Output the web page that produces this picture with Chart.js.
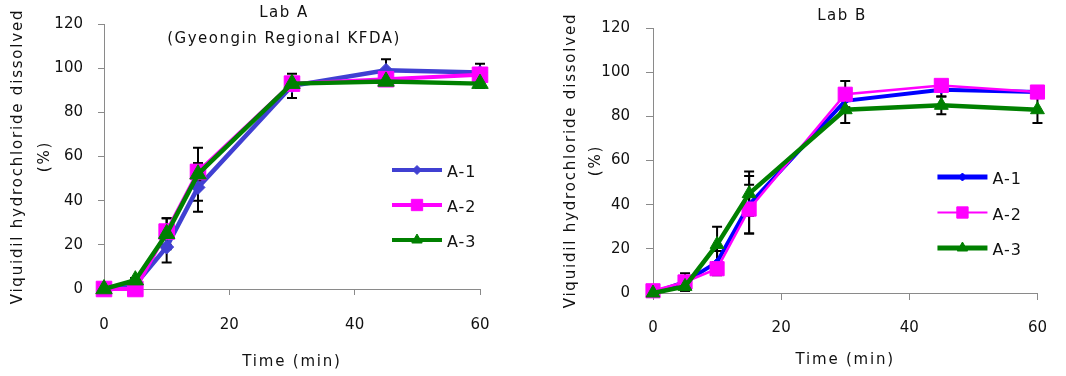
<!DOCTYPE html>
<html>
<head>
<meta charset="utf-8">
<script src="https://cdn.jsdelivr.net/npm/chart.js@4.4.0/dist/chart.umd.min.js"></script>
<style>
  html, body { margin: 0; padding: 0; background: #fff; }
  #wrap { position: relative; width: 1066px; height: 376px; }
  .box { position: absolute; top: 0; height: 376px; }
</style>
</head>
<body>
<div id="wrap">
  <div class="box" style="left:0;width:530px"><canvas id="labA"></canvas></div>
  <div class="box" style="left:530px;width:536px"><canvas id="labB"></canvas></div>
</div>
<script>
// sampling times (min)
var times = [0, 5, 10, 15, 30, 45, 60];
var seriesNames = ['A-1', 'A-2', 'A-3'];
var xTicks = [0, 20, 40, 60];
var yTicks = [0, 20, 40, 60, 80, 100, 120];

// Lab A (Gyeongin Regional KFDA), % dissolved
var labA1 = [0, 2, 19, 46, 92, 99, 98];
var labA2 = [0, 0, 26, 53, 93, 95, 97];
var labA3 = [0, 4, 25, 52, 93, 94, 93];
var labA1Err = [0, 3, 7, 11, 5.5, 5, 4];
var labA2Err = [0, 0, 6, 4, 2, 2, 2];
var labA3Err = [0, 1, 7, 12, 2, 2, 2];

// Lab B, % dissolved
var labB1 = [0, 5, 14, 40, 87, 92, 91];
var labB2 = [1, 5, 11, 38, 90, 94, 91];
var labB3 = [0, 3, 22, 45, 83, 85, 83];
var labB1Err = [0, 4, 5, 13, 3, 3, 2];
var labB2Err = [0, 2, 3, 11, 6, 2, 2];
var labB3Err = [0, 2, 8, 10, 6, 4, 6];

var FONT = 'DejaVu Sans';
var TEXT = '#111';
var AXIS = '#8a8a8a';

function pts(vals) {
  return times.map(function (t, i) { return { x: t, y: vals[i] }; });
}

var labPlugin = {
  id: 'labPlugin',
  beforeDraw: function (chart) {
    // wide letter spacing for the axis titles (drawn with the grid layer)
    chart.ctx.letterSpacing = '1.8px';
  },
  beforeDatasetsDraw: function (chart, args, opts) {
    var ctx = chart.ctx;
    ctx.letterSpacing = '0px';
    var xs = chart.scales.x, ys = chart.scales.y;
    ctx.save();
    ctx.strokeStyle = '#000';
    ctx.lineWidth = 2;
    chart.data.datasets.forEach(function (ds, d) {
      ds.data.forEach(function (p, i) {
        var e = opts.errors[d][i];
        if (!e) return;
        var px = xs.getPixelForValue(p.x);
        var top = ys.getPixelForValue(p.y + e);
        var bot = ys.getPixelForValue(p.y - e);
        ctx.beginPath();
        ctx.moveTo(px, top); ctx.lineTo(px, bot);
        ctx.moveTo(px - 5, top); ctx.lineTo(px + 5, top);
        ctx.moveTo(px - 5, bot); ctx.lineTo(px + 5, bot);
        ctx.stroke();
      });
    });
    ctx.restore();
  },
  afterDraw: function (chart, args, opts) {
    var ctx = chart.ctx;
    var area = chart.chartArea;
    ctx.save();
    ctx.letterSpacing = '1.5px';
    ctx.fillStyle = TEXT;
    ctx.font = '15px "' + FONT + '"';
    ctx.textAlign = 'center';
    ctx.textBaseline = 'middle';
    opts.title.forEach(function (line, i) {
      ctx.fillText(line, opts.titleX, opts.titleY + i * 26);
    });

    // legend inside the plot
    ctx.font = '16px "' + FONT + '"';
    ctx.letterSpacing = '1px';
    var lx = area.right - opts.legendRight;
    chart.data.datasets.forEach(function (ds, i) {
      var ly = area.top + opts.legendTop + i * opts.legendGap;
      ctx.strokeStyle = ds.borderColor;
      ctx.lineWidth = ds.legendWidth;
      ctx.beginPath();
      ctx.moveTo(lx, ly);
      ctx.lineTo(lx + 50, ly);
      ctx.stroke();
      ctx.fillStyle = ds.borderColor;
      ctx.lineWidth = 1;
      Chart.helpers.drawPoint(ctx, { pointStyle: ds.pointStyle, radius: ds.legendRadius, borderWidth: 1 }, lx + 25, ly);
      ctx.fillStyle = TEXT;
      ctx.textAlign = 'left';
      ctx.fillText(ds.label, lx + 55, ly + 3);
    });
    ctx.restore();
  }
};

function makeChart(id, cfg) {
  var styles = cfg.styles;
  var datasets = cfg.values.map(function (vals, i) {
    var s = styles[i];
    return {
      label: seriesNames[i],
      data: pts(vals),
      borderColor: s.color,
      backgroundColor: s.color,
      pointBackgroundColor: s.color,
      pointBorderColor: s.color,
      borderWidth: s.width,
      pointStyle: s.marker,
      pointRadius: s.radius,
      pointBorderWidth: 1,
      legendRadius: s.legendRadius,
      legendWidth: s.legendWidth,
      tension: 0,
      clip: false,
      order: 2 - i
    };
  });

  return new Chart(document.getElementById(id), {
    type: 'line',
    data: { datasets: datasets },
    plugins: [labPlugin],
    options: {
      responsive: true,
      maintainAspectRatio: false,
      animation: false,
      layout: { padding: cfg.padding },
      plugins: {
        legend: { display: false },
        tooltip: { enabled: false },
        labPlugin: {
          errors: cfg.errors,
          title: cfg.title,
          titleX: cfg.titleX,
          titleY: cfg.titleY,
          legendRight: cfg.legendRight,
          legendTop: cfg.legendTop,
          legendGap: cfg.legendGap
        }
      },
      scales: {
        x: {
          type: 'linear',
          min: 0,
          max: 60,
          afterBuildTicks: function (s) { s.ticks = xTicks.map(function (v) { return { value: v }; }); },
          afterFit: function (s) { s.height = cfg.xHeight; },
          grid: { drawOnChartArea: false, drawTicks: true, tickLength: cfg.tickLen, color: AXIS },
          border: { color: AXIS, width: 1 },
          ticks: { color: TEXT, font: { family: FONT, size: 15 }, padding: cfg.xPad, maxRotation: 0, z: 1 },
          title: {
            display: true,
            text: 'Time (min)',
            color: TEXT,
            font: { family: FONT, size: 15, lineHeight: 1.2 },
            padding: { top: 0, bottom: cfg.xTitlePad }
          }
        },
        y: {
          min: 0,
          max: 120,
          afterBuildTicks: function (s) { s.ticks = yTicks.map(function (v) { return { value: v }; }); },
          afterFit: function (s) { s.width = cfg.yWidth; },
          grid: { drawOnChartArea: false, drawTicks: true, tickLength: cfg.tickLen, color: AXIS },
          border: { color: AXIS, width: 1 },
          ticks: { color: TEXT, font: { family: FONT, size: 15 }, padding: cfg.yPad, z: 1 },
          title: {
            display: true,
            text: ['Viquidil hydrochloride dissolved', '(%)'],
            color: TEXT,
            font: { family: FONT, size: 15, lineHeight: cfg.yTitleLine },
            padding: { top: cfg.yTitlePad, bottom: 0 }
          }
        }
      }
    }
  });
}

makeChart('labA', {
  values: [labA1, labA2, labA3],
  errors: [labA1Err, labA2Err, labA3Err],
  styles: [
    { color: '#4040d2', width: 4.5, marker: 'rectRot', radius: 7, legendRadius: 4.5, legendWidth: 4 },
    { color: '#ff00ff', width: 4, marker: 'rect', radius: 11, legendRadius: 8, legendWidth: 4 },
    { color: '#008000', width: 4.5, marker: 'triangle', radius: 9.5, legendRadius: 6, legendWidth: 4 }
  ],
  padding: { top: 24, right: 50, bottom: 0, left: 0 },
  yWidth: 104,
  xHeight: 87,
  tickLen: 6,
  xPad: 21,
  yPad: 15,
  xTitlePad: 5,
  yTitleLine: 1.8,
  yTitlePad: 4.5,
  title: ['Lab A', '(Gyeongin Regional KFDA)'],
  titleX: 284,
  titleY: 13,
  legendRight: 88,
  legendTop: 146,
  legendGap: 35
});

makeChart('labB', {
  values: [labB1, labB2, labB3],
  errors: [labB1Err, labB2Err, labB3Err],
  styles: [
    { color: '#0000ff', width: 4, marker: 'rectRot', radius: 4, legendRadius: 4, legendWidth: 5 },
    { color: '#ff00ff', width: 2.5, marker: 'rect', radius: 10, legendRadius: 8, legendWidth: 2 },
    { color: '#008000', width: 4.5, marker: 'triangle', radius: 8, legendRadius: 6, legendWidth: 5 }
  ],
  padding: { top: 28, right: 28, bottom: 0, left: 0 },
  yWidth: 123,
  xHeight: 83,
  tickLen: 7,
  xPad: 19,
  yPad: 16,
  xTitlePad: 7,
  yTitleLine: 1.667,
  yTitlePad: 29,
  title: ['Lab B'],
  titleX: 312,
  titleY: 16,
  legendRight: 100,
  legendTop: 149,
  legendGap: 35.5
});
</script>
</body>
</html>
